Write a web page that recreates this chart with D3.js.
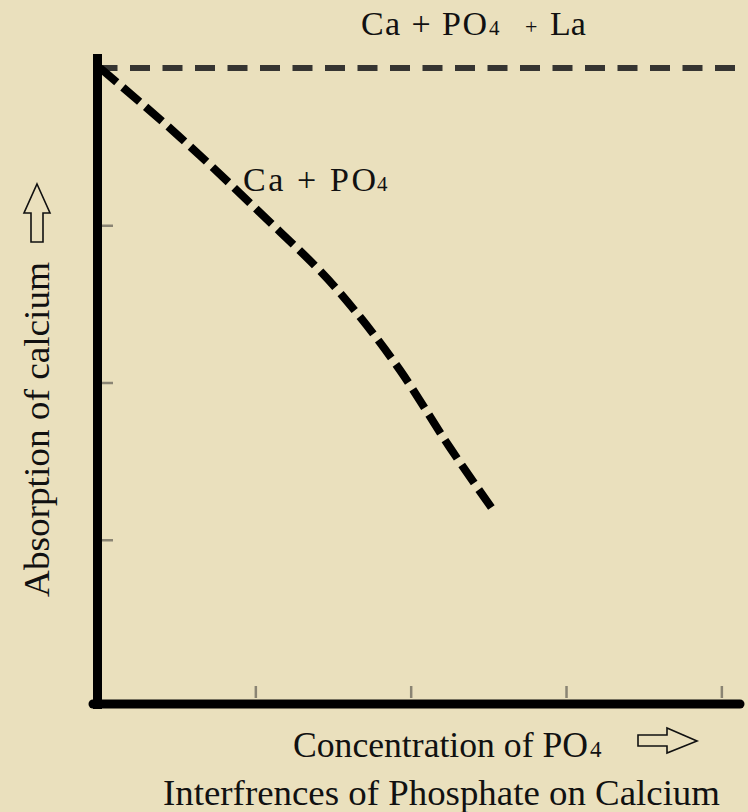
<!DOCTYPE html>
<html>
<head>
<meta charset="utf-8">
<script src="https://cdn.jsdelivr.net/npm/d3@7/dist/d3.min.js"></script>
<style>
  html, body { margin: 0; padding: 0; background: #eae0bd; }
  svg { display: block; }
  text { font-family: "Liberation Serif", "Times New Roman", serif; fill: #111; }
</style>
</head>
<body>
<svg id="chart" width="748" height="812"></svg>
<script>
// ---- data ----
const curveX = [0, 0.515, 1.03, 1.545, 1.93, 2.25, 2.53];
const curveY = [4.0, 3.56, 3.08, 2.57, 2.08, 1.59, 1.19];
const refX = [0, 4.12];
const refY = [4.0, 4.0];
const xTicks = [1, 2, 3, 4];
const yTicks = [1, 2, 3];
const yLabel = "Absorption of calcium";
const xLabel = "Concentration of PO";
const title = "Interfrences of Phosphate on Calcium";

const FONT = '"Liberation Serif", "Times New Roman", serif';

// ---- layout ----
const svg = d3.select("#chart");
const x = d3.scaleLinear().domain([0, 4.12]).range([100, 740]);
const y = d3.scaleLinear().domain([0, 4.07]).range([697, 57]);

// ticks (light gray)
const gx = svg.append("g").attr("transform", "translate(0,698)")
  .call(d3.axisBottom(x).tickValues(xTicks).tickSize(-12).tickFormat(""));
gx.select(".domain").remove();
gx.selectAll(".tick line").attr("stroke", "#8a8473").attr("stroke-width", 2.5);

const gy = svg.append("g").attr("transform", "translate(101,0)")
  .call(d3.axisLeft(y).tickValues(yTicks).tickSize(-12).tickFormat(""));
gy.select(".domain").remove();
gy.selectAll(".tick line").attr("stroke", "#8a8473").attr("stroke-width", 2.5);

// reference dashed line (Ca + PO4 + La)
const line = d3.line().x(d => x(d[0])).y(d => y(d[1]));
svg.append("path")
  .datum(d3.zip(refX, refY))
  .attr("d", line)
  .attr("fill", "none")
  .attr("stroke", "#222")
  .attr("stroke-width", 6)
  .attr("stroke-dasharray", "20,12.5")
  .attr("stroke-dashoffset", 2.5)
  .attr("opacity", 0.9);

// curve (Ca + PO4)
const curveLine = d3.line().curve(d3.curveMonotoneX).x(d => x(d[0])).y(d => y(d[1]));
svg.append("path")
  .datum(d3.zip(curveX, curveY))
  .attr("d", curveLine)
  .attr("fill", "none")
  .attr("stroke", "#000")
  .attr("stroke-width", 8)
  .attr("stroke-dasharray", "22,8");

// axes (thick black)
svg.append("line").attr("x1", 97.5).attr("x2", 97.5).attr("y1", 54).attr("y2", 709)
  .attr("stroke", "#000").attr("stroke-width", 9);
svg.append("line").attr("x1", 93).attr("x2", 740).attr("y1", 704).attr("y2", 704)
  .attr("stroke", "#000").attr("stroke-width", 9).attr("stroke-linecap", "round");

// top label
const t1 = svg.append("text").attr("y", 35).attr("font-size", 34).attr("font-family", FONT);
t1.append("tspan").attr("x", 361).attr("textLength", 126).attr("lengthAdjust", "spacing").text("Ca + PO");
t1.append("tspan").attr("x", 489).attr("font-size", 21).text("4");
t1.append("tspan").attr("x", 525).attr("dy", -1).attr("font-size", 22).text("+");
t1.append("tspan").attr("x", 550).attr("dy", 1).text("La");

// curve label
const t2 = svg.append("text").attr("y", 191).attr("font-size", 34).attr("font-family", FONT);
t2.append("tspan").attr("x", 243).attr("textLength", 133).attr("lengthAdjust", "spacing").text("Ca + PO");
t2.append("tspan").attr("x", 377).attr("font-size", 21).text("4");

// y label
svg.append("text")
  .attr("transform", "translate(49,597) rotate(-90)")
  .attr("font-size", 36).attr("font-family", FONT)
  .attr("textLength", 335).attr("lengthAdjust", "spacingAndGlyphs")
  .text(yLabel);

// up arrow (hollow)
svg.append("path")
  .attr("d", "M37,184 L50,213 L43,213 L43,242 L31,242 L31,213 L24,213 Z")
  .attr("fill", "none").attr("stroke", "#111").attr("stroke-width", 1.6);

// x label
const t3 = svg.append("text").attr("y", 757).attr("font-size", 35).attr("font-family", FONT);
t3.append("tspan").attr("x", 293).attr("textLength", 295).attr("lengthAdjust", "spacingAndGlyphs").text(xLabel);
t3.append("tspan").attr("x", 590).attr("font-size", 23).text("4");

// right arrow (hollow)
svg.append("path")
  .attr("d", "M638,735 L667,735 L667,728 L697,741 L667,753 L667,746 L638,746 Z")
  .attr("fill", "none").attr("stroke", "#111").attr("stroke-width", 1.6);

// title
svg.append("text")
  .attr("x", 163).attr("y", 805)
  .attr("font-size", 36).attr("font-family", FONT)
  .attr("textLength", 557).attr("lengthAdjust", "spacingAndGlyphs")
  .text(title);
</script>
</body>
</html>
